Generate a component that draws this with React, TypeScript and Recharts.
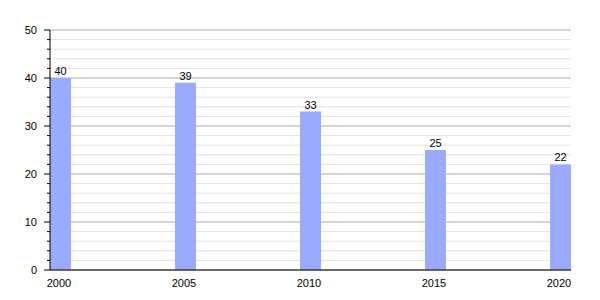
import React from 'react';
import {
  BarChart,
  Bar,
  XAxis,
  YAxis,
  CartesianGrid,
  LabelList,
} from 'recharts';

const years = [2000, 2005, 2010, 2015, 2020];
const values = [40, 39, 33, 25, 22];
const yTicks = [0, 2, 4, 6, 8, 10, 12, 14, 16, 18, 20, 22, 24, 26, 28, 30, 32, 34, 36, 38, 40, 42, 44, 46, 48, 50];

const data = years.map((year, i) => ({ year, value: values[i] }));

const font = '"Liberation Sans", Arial, sans-serif';

const YTick = (props: any) => {
  const { x, y, payload } = props;
  const major = payload.value % 10 === 0;
  return (
    <g>
      <line x1={x + 8 - (major ? 6 : 3)} x2={x + 8} y1={y} y2={y} stroke="#000" />
      {major && (
        <text x={x - 5} y={y} dy={4} textAnchor="end" fontSize={11} fill="#000" fontFamily={font}>
          {payload.value}
        </text>
      )}
    </g>
  );
};

const XTick = (props: any) => {
  const { x, y, payload } = props;
  return (
    <text x={x - 1.5} y={y} dy={9} textAnchor="middle" fontSize={11} fill="#000" fontFamily={font}>
      {payload.value}
    </text>
  );
};

const GridLine = (props: any) => {
  const { x1, x2, y1, y2, index } = props;
  const major = index % 5 === 0;
  return <line x1={x1} x2={x2} y1={y1} y2={y2} stroke={major ? '#aaaaaa' : '#e2e2e2'} strokeWidth={1} />;
};

export default function App() {
  return (
    <div style={{ position: 'absolute', left: 0, top: 0, width: 600, height: 300, background: '#fff' }}>
      <BarChart width={600} height={300} data={data} margin={{ top: 30, right: 29, left: 0, bottom: 0 }}>
        <CartesianGrid vertical={false} horizontal={GridLine} />
        <XAxis
          dataKey="year"
          type="number"
          domain={[2000, 2020]}
          ticks={years}
          padding={{ left: 10.5, right: 10.5 }}
          tickLine={false}
          axisLine={{ stroke: '#000' }}
          tick={<XTick />}
          height={30}
          interval={0}
        />
        <YAxis
          domain={[0, 50]}
          ticks={yTicks}
          interval={0}
          width={50}
          tickLine={false}
          axisLine={{ stroke: '#000' }}
          tick={<YTick />}
        />
        <Bar dataKey="value" fill="#99aaff" barSize={21} isAnimationActive={false}>
          <LabelList dataKey="value" position="top" fontSize={11} fill="#000" fontFamily={font} offset={3} />
        </Bar>
      </BarChart>
    </div>
  );
}
